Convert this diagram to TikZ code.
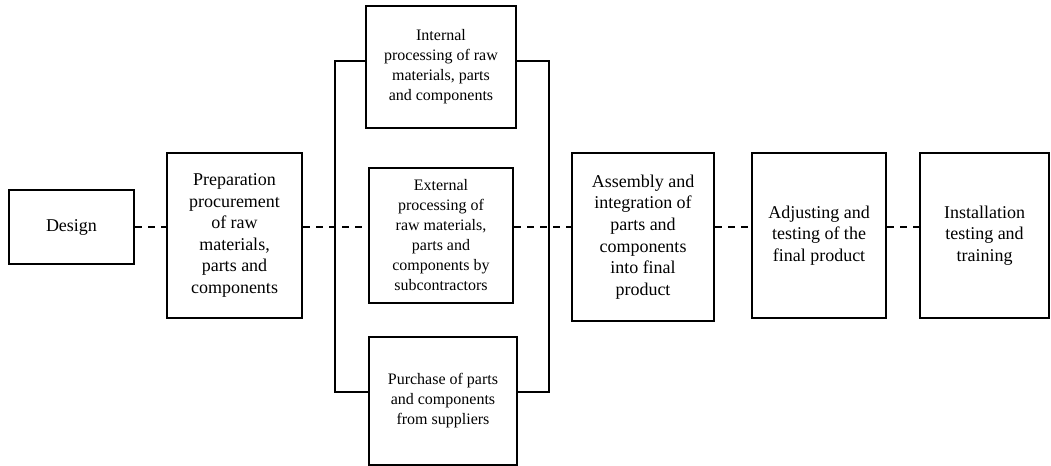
\documentclass[tikz,border=0pt]{standalone}
\usepackage{fontspec}
\setmainfont{Liberation Serif}
\begin{document}
\begin{tikzpicture}[x=0.5pt, y=-0.5pt, line width=1pt,
    stage/.style={
        draw,
        align=center,
        inner sep=0pt,
        font=\fontsize{9}{10.8}\selectfont
    },
    route/.style={
        draw,
        align=center,
        inner sep=0pt,
        font=\fontsize{8}{10}\selectfont
    },
    link/.style={dash pattern=on 3.5pt off 3pt, line width=0.8pt},
    fork/.style={line width=0.8pt}]

    \useasboundingbox (0,0) rectangle (1051,466);

    % main flow
    \node[stage, minimum width=62.5pt, minimum height=37pt] (design) at (71.5,227) {Design};
    \node[stage, minimum width=67.5pt, minimum height=82.5pt] (prep) at (234.5,235.5)
        {Preparation\\procurement\\of raw\\materials,\\parts and\\components};

    % three routes
    \node[route, minimum width=75pt, minimum height=61pt] (internal) at (441,67)
        {Internal\\processing of raw\\materials, parts\\and components};
    \node[route, minimum width=72pt, minimum height=67.5pt] (external) at (441,235.5)
        {External\\processing of\\raw materials,\\parts and\\components by\\subcontractors};
    \node[route, minimum width=74pt, minimum height=64pt] (purchase) at (443,401)
        {Purchase of parts\\and components\\from suppliers};

    \node[stage, minimum width=71pt, minimum height=84pt] (assembly) at (643,237)
        {Assembly and\\integration of\\parts and\\components\\into final\\product};
    \node[stage, minimum width=67pt, minimum height=82.5pt] (adjust) at (819,235.5)
        {Adjusting and\\testing of the\\final product};
    \node[stage, minimum width=64.5pt, minimum height=82.5pt] (install) at (984.5,235.5)
        {Installation\\testing and\\training};

    % bracket around the routes
    \coordinate (forkTL) at (335,61);
    \coordinate (forkBL) at (335,392);
    \coordinate (forkTR) at (549,61);
    \coordinate (forkBR) at (549,392);
    \draw[fork] (internal.west |- forkTL) -- (forkTL) -- (forkBL) -- (purchase.west |- forkBL);
    \draw[fork] (internal.east |- forkTR) -- (forkTR) -- (forkBR) -- (purchase.east |- forkBR);

    % dashed links
    \draw[link] (design.east) -- (prep.west |- design.east);
    \draw[link] (prep.east |- design.east) -- (external.west |- design.east);
    \draw[link] (external.east |- design.east) -- (assembly.west |- design.east);
    \draw[link] (assembly.east |- design.east) -- (adjust.west |- design.east);
    \draw[link] (adjust.east |- design.east) -- (install.west |- design.east);

\end{tikzpicture}
\end{document}
